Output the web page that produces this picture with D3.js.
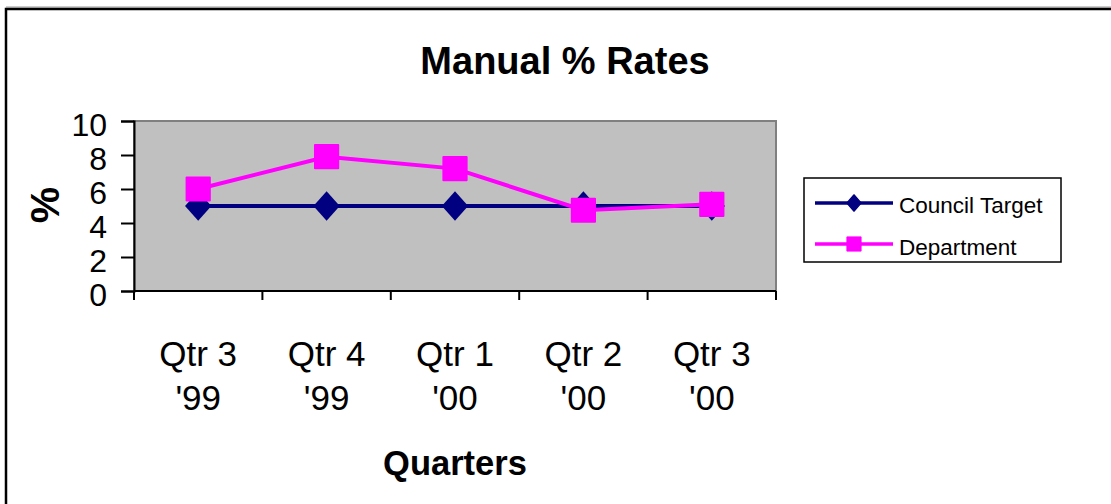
<!DOCTYPE html>
<html><head><meta charset="utf-8">
<script src="https://cdn.jsdelivr.net/npm/d3@7"></script>
<style>body{margin:0;background:#fff}svg{display:block}text{font-family:Arial,"Liberation Sans",sans-serif}</style>
</head><body>
<script>
const categories = [["Qtr 3","'99"],["Qtr 4","'99"],["Qtr 1","'00"],["Qtr 2","'00"],["Qtr 3","'00"]];
const councilTarget = [5,5,5,5,5];
const department = [6.0,7.9,7.2,4.75,5.1];
const yTicks = [0,2,4,6,8,10];
const seriesNames = ["Council Target","Department"];

const W=1111,H=504;
const svg=d3.select("body").append("svg").attr("width",W).attr("height",H);
// outer border
svg.append("line").attr("x1",6).attr("x2",W+5).attr("y1",7).attr("y2",7).attr("stroke","#999").attr("stroke-width",1);
svg.append("rect").attr("x",6).attr("y",9).attr("width",W+20).attr("height",H+20).attr("fill","none").attr("stroke","#000").attr("stroke-width",2.5);

const L=134,R=776,T=121,B=291;
const x=d3.scaleBand().domain(d3.range(categories.length)).range([L,R]).padding(0);
const y=d3.scaleLinear().domain([0,10]).range([B,T]);

svg.append("rect").attr("x",L).attr("y",T).attr("width",R-L).attr("height",B-T).attr("fill","#C0C0C0").attr("stroke","#808080").attr("stroke-width",2);

// y axis
const ya=svg.append("g").attr("transform",`translate(${L},0)`).call(d3.axisLeft(y).tickValues(yTicks).tickSize(13).tickPadding(14));
ya.select(".domain").attr("stroke","#000").attr("stroke-width",2);
ya.selectAll(".tick line").attr("stroke","#000").attr("stroke-width",2);
ya.selectAll(".tick text").attr("font-size",32).attr("fill","#000").attr("dy","0.46em").attr("font-family","Arial,'Liberation Sans',sans-serif");

// x axis
const xa=svg.append("g").attr("transform",`translate(0,${B})`);
xa.append("line").attr("x1",L).attr("x2",R).attr("stroke","#000").attr("stroke-width",2);
const edges=d3.range(categories.length+1).map(i=>i<categories.length?x(i):x(categories.length-1)+x.bandwidth());
xa.selectAll("line.t").data(edges).join("line").attr("class","t").attr("x1",d=>d).attr("x2",d=>d).attr("y1",0).attr("y2",9).attr("stroke","#000").attr("stroke-width",2);
const cl=svg.append("g");
categories.forEach((c,i)=>{
  const cx=x(i)+x.bandwidth()/2;
  cl.append("text").attr("x",cx).attr("y",366).attr("text-anchor","middle").attr("font-size",35).text(c[0]);
  cl.append("text").attr("x",cx).attr("y",410).attr("text-anchor","middle").attr("font-size",35).text(c[1]);
});

const cx=i=>x(i)+x.bandwidth()/2;
const line=d3.line().x((d,i)=>cx(i)).y(d=>y(d));
const diamond=d3.symbol().type(d3.symbolDiamond).size(250);
const square=d3.symbol().type(d3.symbolSquare).size(540);

svg.append("path").datum(councilTarget).attr("d",line).attr("fill","none").attr("stroke","#000080").attr("stroke-width",4);
svg.selectAll("path.ct").data(councilTarget).join("path").attr("class","ct").attr("d",diamond).attr("transform",(d,i)=>`translate(${cx(i)},${y(d)}) scale(1.55,1.0)`).attr("fill","#000080");
svg.append("path").datum(department).attr("d",line).attr("fill","none").attr("stroke","#FF00FF").attr("stroke-width",4);
svg.selectAll("path.dp").data(department).join("path").attr("class","dp").attr("d",square).attr("transform",(d,i)=>`translate(${cx(i)},${y(d)})`).attr("fill","#FF00FF").attr("stroke","#FF00FF").attr("stroke-width",2).attr("stroke-linejoin","round");

// titles
svg.append("text").attr("x",565).attr("y",74).attr("text-anchor","middle").attr("font-size",38).attr("font-weight","bold").text("Manual % Rates");
svg.append("text").attr("transform","translate(59,205) rotate(-90)").attr("text-anchor","middle").attr("font-size",41).attr("font-weight","bold").text("%");
svg.append("text").attr("x",455).attr("y",475).attr("text-anchor","middle").attr("font-size",34.5).attr("font-weight","bold").text("Quarters");

// legend
const lg=svg.append("g");
lg.append("rect").attr("x",804).attr("y",178).attr("width",257).attr("height",84).attr("fill","#fff").attr("stroke","#000").attr("stroke-width",1.5);
const ly=[203,244], colors=["#000080","#FF00FF"], tb=[213,255];
seriesNames.forEach((n,i)=>{
  lg.append("line").attr("x1",815).attr("x2",893).attr("y1",ly[i]).attr("y2",ly[i]).attr("stroke",colors[i]).attr("stroke-width",3.5);
  lg.append("path").attr("d",i==0?d3.symbol().type(d3.symbolDiamond).size(78)():d3.symbol().type(d3.symbolSquare).size(200)())
    .attr("transform",`translate(854,${ly[i]})${i==0?" scale(1.5,1)":""}`).attr("fill",colors[i]).attr("stroke",colors[i]).attr("stroke-linejoin","round");
  lg.append("text").attr("x",899).attr("y",tb[i]).attr("font-size",22.5).text(n);
});
</script>
</body></html>
